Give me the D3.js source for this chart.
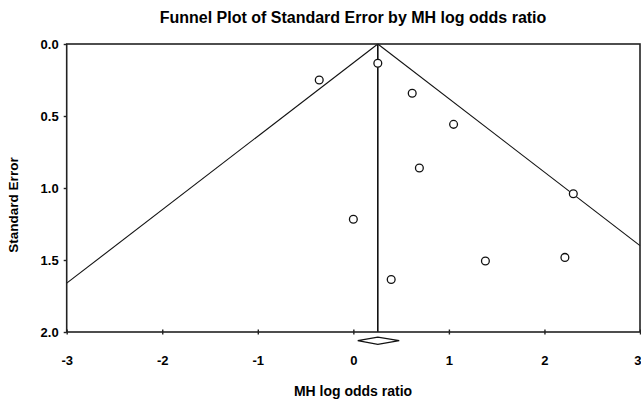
<!DOCTYPE html>
<html>
<head>
<meta charset="utf-8">
<script src="https://cdn.jsdelivr.net/npm/d3@7"></script>
<style>
  html, body { margin: 0; padding: 0; background: #fff; }
  svg { display: block; }
  text { font-family: "Liberation Sans", Arial, sans-serif; font-weight: bold; fill: #000; }
</style>
</head>
<body>
<script>
// ---- Data ----
const studyLogOR = [-0.357, 0.256, 0.616, 1.049, 0.691, 2.302, 0.0, 1.382, 2.214, 0.396];
const studySE    = [0.25, 0.134, 0.342, 0.558, 0.861, 1.040, 1.217, 1.507, 1.482, 1.635];
const pooledEstimate = 0.256;
const pooledCI = [0.046, 0.48];
const funnelLeft  = [[0.256, 0], [-3, 1.661]];
const funnelRight = [[0.256, 0], [3, 1.400]];
const xTicks = [-3, -2, -1, 0, 1, 2, 3];
const yTicks = [0.0, 0.5, 1.0, 1.5, 2.0];
const title = "Funnel Plot of Standard Error by MH log odds ratio";
const xLabel = "MH log odds ratio";
const yLabel = "Standard Error";

// ---- Layout ----
const W = 641, H = 401;
const mLeft = 66.7, mRight = 640, mTop = 44, mBottom = 332;

const svg = d3.select("body").append("svg").attr("width", W).attr("height", H);

const x = d3.scaleLinear().domain([-3, 3]).range([mLeft, mRight]);
const y = d3.scaleLinear().domain([0, 2]).range([mTop, mBottom]);

// Title
svg.append("text").attr("x", 353).attr("y", 22.5)
  .attr("text-anchor", "middle").style("font-size", "16px").text(title);

// Funnel lines
const line = d3.line().x(d => x(d[0])).y(d => y(d[1]));
[funnelLeft, funnelRight].forEach(seg => {
  svg.append("path").attr("d", line(seg)).attr("fill", "none")
    .attr("stroke", "#111").attr("stroke-width", 1.1);
});

// Vertical line at pooled estimate
svg.append("line")
  .attr("x1", x(pooledEstimate)).attr("x2", x(pooledEstimate))
  .attr("y1", y(0)).attr("y2", y(2))
  .attr("stroke", "#111").attr("stroke-width", 1.6);

// Frame
svg.append("rect").attr("x", mLeft).attr("y", mTop)
  .attr("width", mRight - mLeft).attr("height", mBottom - mTop)
  .attr("fill", "none").attr("stroke", "#222").attr("stroke-width", 1.6);

// Y axis
const yAxis = d3.axisLeft(y).tickValues(yTicks).tickFormat(d3.format(".1f")).tickSize(3).tickPadding(5);
const gy = svg.append("g").attr("transform", `translate(${mLeft},0)`).call(yAxis);
gy.select(".domain").remove();
gy.selectAll(".tick line").attr("stroke", "#222").attr("stroke-width", 1.4);
gy.selectAll("text").style("font-size", "13px").attr("fill", "#000");

// X axis
const xAxis = d3.axisBottom(x).tickValues(xTicks).tickFormat(d => String(d)).tickSize(2).tickPadding(0);
const gx = svg.append("g").attr("transform", `translate(0,${mBottom})`).call(xAxis);
gx.select(".domain").remove();
gx.selectAll(".tick line").attr("y1", -2.5).attr("y2", 2.5).attr("stroke", "#222").attr("stroke-width", 1.4);
gx.selectAll("text").attr("dy", null).attr("y", 33).style("font-size", "13px").attr("fill", "#000");
gx.selectAll(".tick").filter(d => d === 3).select("text").attr("text-anchor", "end").attr("x", 1);

// Axis titles
svg.append("text").attr("x", 353).attr("y", 396)
  .attr("text-anchor", "middle").style("font-size", "14px").text(xLabel);
svg.append("text").attr("transform", "translate(18,205) rotate(-90)")
  .attr("text-anchor", "middle").style("font-size", "13.5px").text(yLabel);

// Points
svg.append("g").selectAll("circle")
  .data(studyLogOR.map((v, i) => [v, studySE[i]]))
  .join("circle")
  .attr("cx", d => x(d[0])).attr("cy", d => y(d[1]))
  .attr("r", 3.9).attr("fill", "#fff").attr("stroke", "#111").attr("stroke-width", 1.3);

// Pooled diamond
const dY = 340.7, dH = 3.6;
const diamond = [[pooledCI[0], 0], [pooledEstimate, -dH], [pooledCI[1], 0], [pooledEstimate, dH]];
svg.append("path")
  .attr("d", "M" + diamond.map(p => [x(p[0]), dY + p[1]].join(",")).join("L") + "Z")
  .attr("fill", "#fff").attr("stroke", "#111").attr("stroke-width", 1.2);
</script>
</body>
</html>
